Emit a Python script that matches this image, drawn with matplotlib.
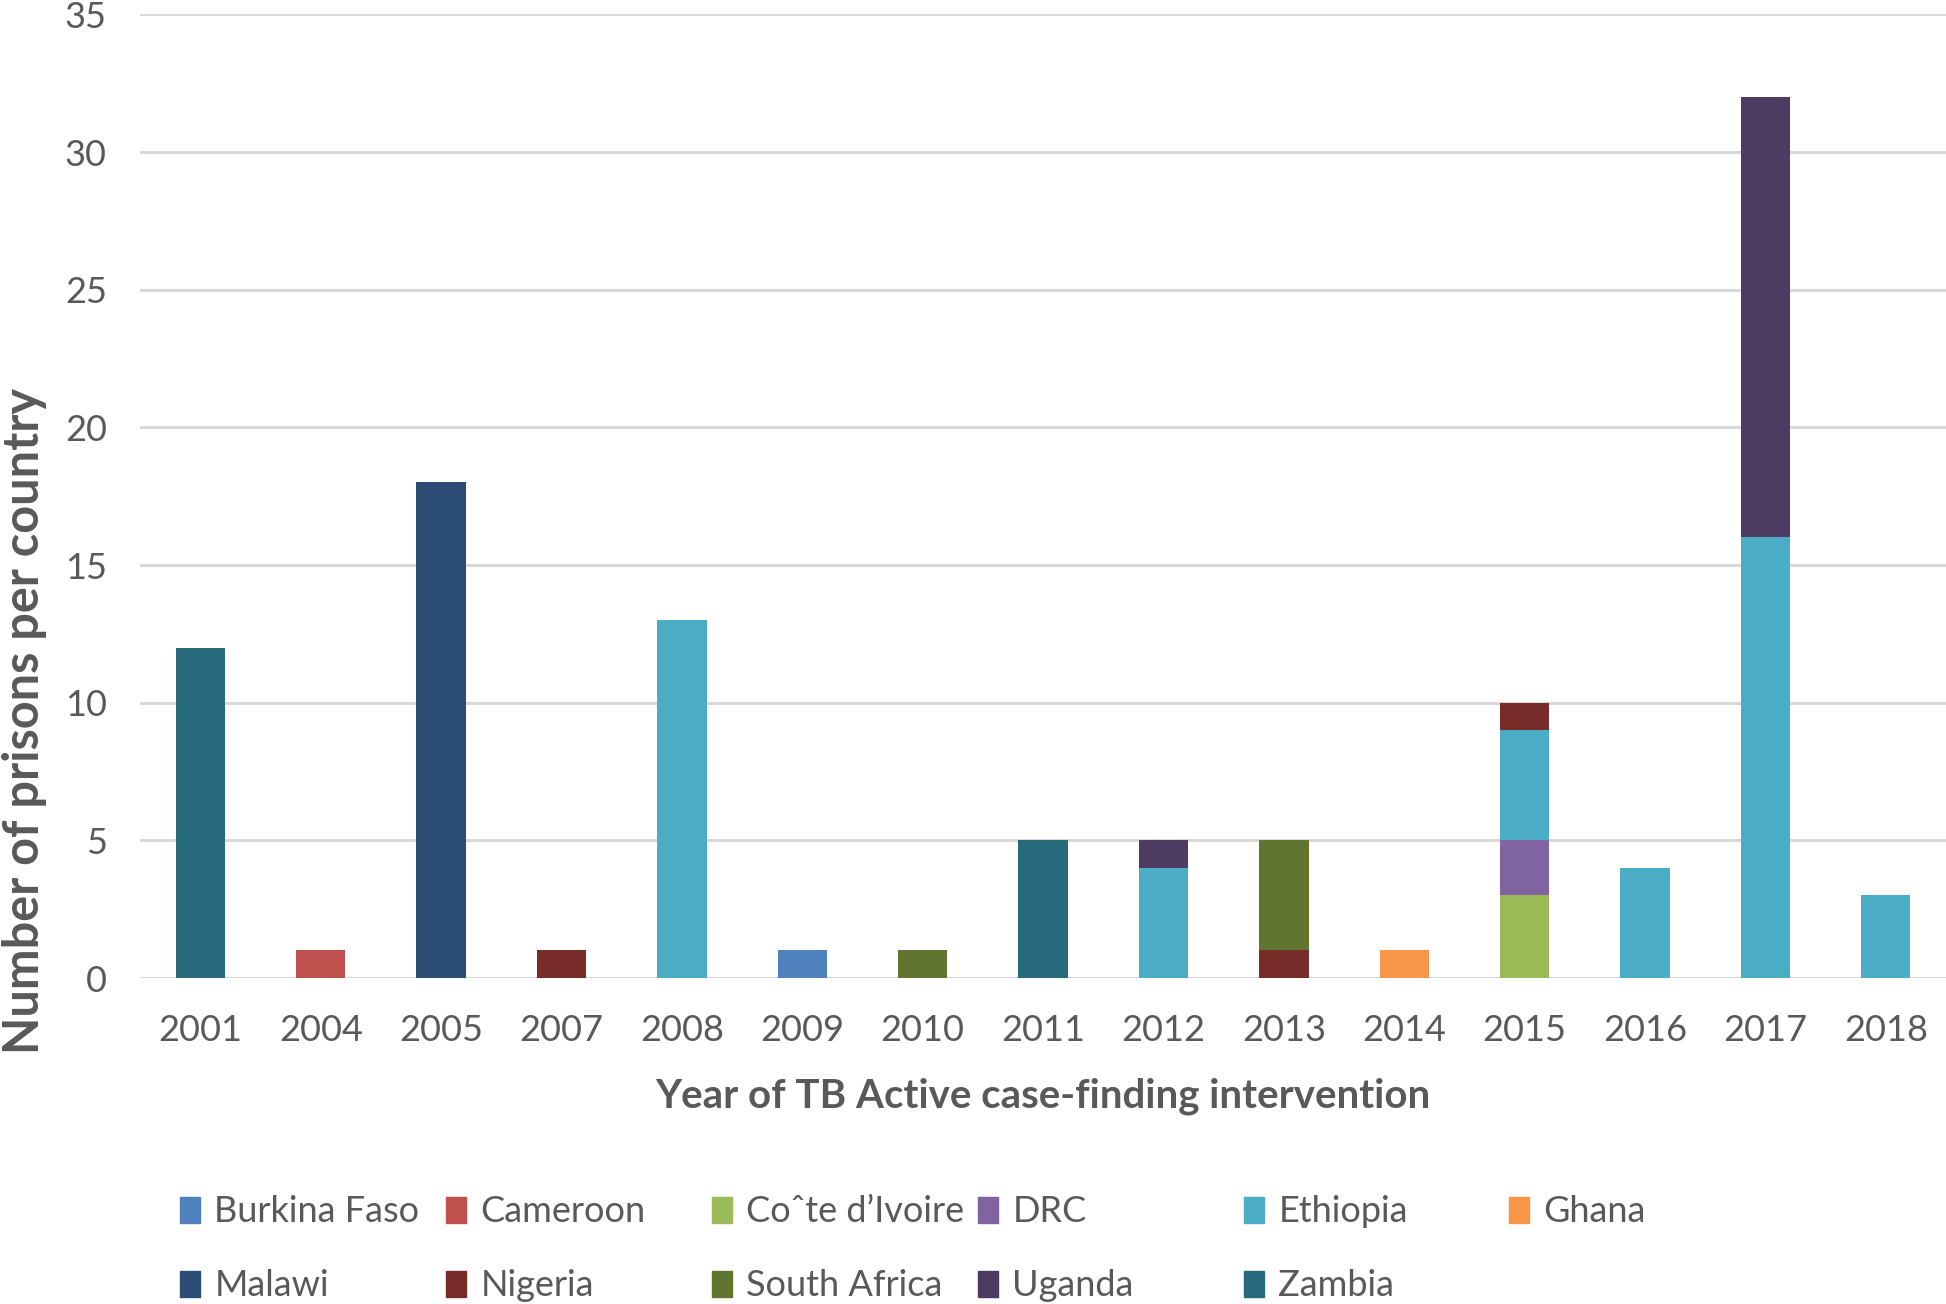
import matplotlib
matplotlib.use("Agg")
import matplotlib.pyplot as plt
import matplotlib.patches as mpatches
import numpy as np

plt.rcParams['font.family'] = ['Lato', 'DejaVu Sans']

years = ['2001', '2004', '2005', '2007', '2008', '2009', '2010', '2011',
         '2012', '2013', '2014', '2015', '2016', '2017', '2018']

countries = ['Burkina Faso', 'Cameroon', 'Co\u02c6te d\u2019Ivoire', 'DRC', 'Ethiopia', 'Ghana',
             'Malawi', 'Nigeria', 'South Africa', 'Uganda', 'Zambia']

#                2001 2004 2005 2007 2008 2009 2010 2011 2012 2013 2014 2015 2016 2017 2018
burkina_faso  = [0,   0,   0,   0,   0,   1,   0,   0,   0,   0,   0,   0,   0,   0,   0]
cameroon      = [0,   1,   0,   0,   0,   0,   0,   0,   0,   0,   0,   0,   0,   0,   0]
cote_divoire  = [0,   0,   0,   0,   0,   0,   0,   0,   0,   0,   0,   3,   0,   0,   0]
drc           = [0,   0,   0,   0,   0,   0,   0,   0,   0,   0,   0,   2,   0,   0,   0]
ethiopia      = [0,   0,   0,   0,  13,   0,   0,   0,   4,   0,   0,   4,   4,  16,   3]
ghana         = [0,   0,   0,   0,   0,   0,   0,   0,   0,   0,   1,   0,   0,   0,   0]
malawi        = [0,   0,  18,   0,   0,   0,   0,   0,   0,   0,   0,   0,   0,   0,   0]
nigeria       = [0,   0,   0,   1,   0,   0,   0,   0,   0,   1,   0,   1,   0,   0,   0]
south_africa  = [0,   0,   0,   0,   0,   0,   1,   0,   0,   4,   0,   0,   0,   0,   0]
uganda        = [0,   0,   0,   0,   0,   0,   0,   0,   1,   0,   0,   0,   0,  16,   0]
zambia        = [12,  0,   0,   0,   0,   0,   0,   5,   0,   0,   0,   0,   0,   0,   0]

series = [burkina_faso, cameroon, cote_divoire, drc, ethiopia, ghana,
          malawi, nigeria, south_africa, uganda, zambia]

colors = ['#4F81BD', '#C0504D', '#9BBB59', '#8064A2', '#4BACC6', '#F79646',
          '#2C4D75', '#772C2A', '#5F7530', '#4D3B62', '#276A7C']

fig = plt.figure(figsize=(19.46, 13.04), dpi=100)
ax = fig.add_axes([0.072, 0.25, 0.928, 0.739])

x = np.arange(len(years))
bottom = np.zeros(len(years))
handles = []
for name, vals, col in zip(countries, series, colors):
    v = np.array(vals, dtype=float)
    ax.bar(x, v, width=0.41, bottom=bottom, color=col, zorder=3)
    bottom += v
    handles.append(mpatches.Patch(color=col, label=name))

ax.set_xlim(-0.5, len(years) - 0.5)
ax.set_ylim(0, 35)
ax.set_yticks(np.arange(0, 36, 5))
ax.set_xticks(x)
ax.set_xticklabels(years)
ax.grid(axis='y', color='#D9D9D9', linewidth=2.2, zorder=0)
ax.set_axisbelow(True)
for s in ax.spines.values():
    s.set_visible(False)
ax.tick_params(axis='both', length=0, labelsize=26, labelcolor='#595959')
ax.tick_params(axis='y', pad=24)
ax.tick_params(axis='x', pad=26)

ax.set_xlabel('Year of TB Active case-finding intervention', fontsize=29,
              fontweight='bold', color='#595959', labelpad=22)
fig.text(0.0125, 0.447, 'Number of prisons per country', rotation=90, fontsize=35,
         fontweight='bold', color='#595959', ha='center', va='center')

# legend: 6 equally spaced columns, 2 rows
col_x = [180, 446, 712, 978, 1244, 1509]
row_y = [1212, 1286]
for i, h in enumerate(handles):
    r, c = divmod(i, 6)
    fig.legend(handles=[h], loc='center left',
               bbox_to_anchor=(col_x[c] / 1946, 1 - row_y[r] / 1304),
               frameon=False, fontsize=26, handlelength=0.55, handleheight=0.75,
               handletextpad=0.4, borderpad=0, borderaxespad=0,
               labelcolor='#595959')

fig.savefig('out.png', dpi=100)
